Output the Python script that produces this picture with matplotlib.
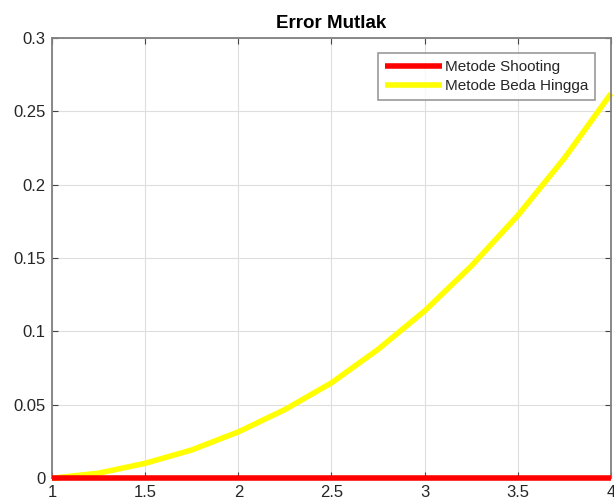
import matplotlib
matplotlib.use("Agg")
import matplotlib.pyplot as plt
import numpy as np

plt.rcParams['font.family'] = ['Liberation Sans', 'DejaVu Sans']

x = [1.0, 1.25, 1.5, 1.75, 2.0, 2.25, 2.5, 2.75, 3.0, 3.25, 3.5, 3.75, 4.0]
err_shooting = [0, 0, 0, 0, 0, 0, 0, 0, 0, 0, 0, 0, 0]
err_beda = [0.0, 0.0035, 0.0102, 0.0193, 0.0316, 0.0468, 0.0650, 0.0878,
            0.1140, 0.1445, 0.1790, 0.2180, 0.2620]
labels = ['Metode Shooting', 'Metode Beda Hingga']
title = 'Error Mutlak'
xticks = [1, 1.5, 2, 2.5, 3, 3.5, 4]
xticklabels = ['1', '1.5', '2', '2.5', '3', '3.5', '4']
yticks = [0, 0.05, 0.1, 0.15, 0.2, 0.25, 0.3]
yticklabels = ['0', '0.05', '0.1', '0.15', '0.2', '0.25', '0.3']

fig = plt.figure(figsize=(6.14, 5.01), dpi=100)
ax = fig.add_axes([52/614, 1 - 478.3/501, (611-52)/614, (478.3-37.7)/501])

ax.plot(x, err_beda, color='#ffff00', lw=4.0, label=labels[1], solid_capstyle='butt',
        solid_joinstyle='round', zorder=2, clip_on=False)
ax.plot(x, err_shooting, color='#ff0000', lw=4.0, label=labels[0], solid_capstyle='butt',
        zorder=3, clip_on=False)

ax.set_xlim(1, 4)
ax.set_ylim(0, 0.3)
ax.set_xticks(xticks)
ax.set_xticklabels(xticklabels)
ax.set_yticks(yticks)
ax.set_yticklabels(yticklabels)
ax.grid(True, color='#dedede', lw=0.8)
ax.set_axisbelow(True)
ax.tick_params(direction='in', length=4, width=0.8, colors='#444444', labelcolor='#262626',
               labelsize=12, top=True, right=True)
ax.tick_params(axis='x', pad=5.0)
ax.tick_params(axis='y', pad=4.5)
for s in ax.spines.values():
    s.set_color('#808080')
    s.set_linewidth(1.3)
ax.set_title(title, fontsize=13.5, fontweight='bold', color='#000000', pad=7)

h, l = ax.get_legend_handles_labels()
order = [1, 0]
leg = ax.legend([h[i] for i in order], [l[i] for i in order],
                loc='upper right', bbox_to_anchor=(595/614, 1 - 53/501), bbox_transform=fig.transFigure,
                fontsize=11, frameon=True, fancybox=False, handlelength=3.75, handletextpad=0.15,
                borderpad=0.45, labelspacing=0.33, borderaxespad=0)
leg.get_frame().set_edgecolor('#808080')
leg.get_frame().set_linewidth(1.2)
for t in leg.get_texts():
    t.set_color('#262626')

fig.savefig('out.png', dpi=100)
